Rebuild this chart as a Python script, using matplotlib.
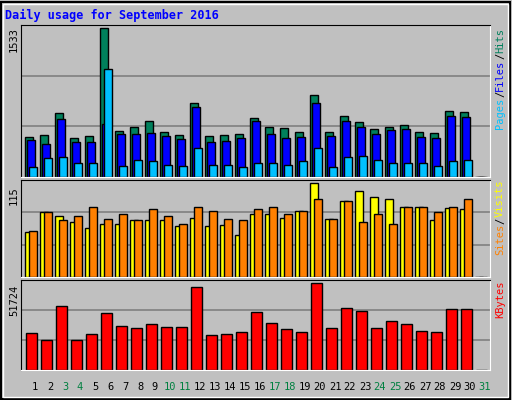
import matplotlib
matplotlib.use("Agg")
from matplotlib import pyplot as plt
from matplotlib.patches import Rectangle

days = list(range(1, 32))
hits = [409, 430, 659, 399, 420, 1533, 472, 513, 576, 461, 430, 763, 420, 430, 440,
        607, 513, 503, 461, 846, 461, 628, 565, 492, 513, 534, 461, 451, 680, 669, 0]
files = [378, 336, 597, 357, 357, 544, 440, 440, 451, 420, 388, 721, 357, 368, 399,
         576, 440, 399, 409, 763, 420, 576, 513, 440, 482, 492, 409, 399, 628, 617, 0]
pages = [108, 191, 201, 149, 139, 1106, 118, 180, 160, 128, 118, 295, 128, 128, 108,
         149, 149, 128, 160, 295, 108, 201, 212, 180, 139, 139, 149, 118, 160, 180, 0]
visits = [55, 79, 75, 67.5, 60, 65, 65, 70, 70, 70, 62.5, 72.5, 62.5, 64, 51,
          77.5, 77.5, 72.5, 80, 115, 71, 92.5, 105, 97.5, 95, 85, 85, 69, 84, 82.5, 0]
sites = [56, 79, 70, 74, 85, 71, 77.5, 69, 82.5, 74, 65, 86, 80, 71, 70,
         82.5, 85, 77.5, 80, 95, 71, 92.5, 67.5, 77.5, 65, 85, 85, 79, 85, 95, 0]
kbytes = [21890, 17711, 38009, 17711, 21293, 33830, 26069, 24875, 27263, 25472, 25472,
          49352, 20696, 21293, 22487, 34427, 27860, 24278, 22487, 51724, 24875, 36815,
          35024, 24875, 29054, 27263, 23084, 22487, 36218, 36218, 0]
weekends = [3, 4, 10, 11, 17, 18, 24, 25, 31]

bg = "#C0C0C0"
mono = "DejaVu Sans Mono"
fig = plt.figure(figsize=(5.12, 4.0), dpi=100, facecolor=bg)

px = 1 / 15.0
xl = (1 - 14 * px, 1 - 14 * px + 469 * px)

def setup(ax, vmax, frac):
    ax.set_facecolor(bg)
    ax.set_xlim(*xl)
    ax.set_ylim(0, vmax * frac)
    for g in (1 / 3, 2 / 3):
        ax.axhline(vmax * frac * g, color="#808080", lw=1.2, zorder=0)
    ax.set_xticks([])
    ax.set_yticks([])
    for s in ax.spines.values():
        s.set_color("black")
    ax.spines["right"].set_color("white")
    ax.spines["bottom"].set_color("white")

kw = dict(edgecolor="black", linewidth=1, align="edge")

ax1 = fig.add_axes([21 / 512, 0.5575, 469 / 512, 0.38])
setup(ax1, max(hits), 1.02)
x = [d - 10 * px for d in days]
ax1.bar(x, hits, 8 * px, color="#00805C", **kw)
ax1.bar([d - 8 * px for d in days], files, 8 * px, color="#0000FF", **kw)
ax1.bar([d - 6 * px for d in days], pages, 8 * px, color="#00C0FF", **kw)

ax2 = fig.add_axes([21 / 512, 0.3075, 469 / 512, 0.2425])
setup(ax2, max(visits), 1.03)
ax2.bar(x, visits, 8 * px, color="#FFFF00", **kw)
ax2.bar([d - 6 * px for d in days], sites, 8 * px, color="#FF8000", **kw)

ax3 = fig.add_axes([21 / 512, 0.075, 469 / 512, 0.225])
setup(ax3, max(kbytes), 1.04)
ax3.bar([d - 9 * px for d in days], kbytes, 11 * px, color="#FF0000", **kw)

for d in days:
    fig.text((35 + 15 * (d - 1)) / 512, 13 / 400, str(d), ha="center", va="center",
             fontsize=7.5, family=mono, color="#008040" if d in weekends else "black")

fig.text(5 / 512, 385 / 400, "Daily usage for September 2016", color="#0000FF",
         fontsize=8.5, family=mono, fontweight="bold", va="center")
for yy, v in ((0.9, max(hits)), (0.51, max(visits)), (0.25, max(kbytes))):
    fig.text(14 / 512, yy, f"{v:g}", rotation=90, fontsize=7.5, family=mono,
             va="center", ha="center")

def vlabel(parts, ytop):
    # parts listed top to bottom; each piece reads bottom-up
    y = ytop
    for t, c in parts:
        fig.text(500 / 512, y, t, rotation=90, fontsize=7.5, family=mono, color=c,
                 va="top", ha="center")
        y -= len(t) * 6.3 / 400

vlabel([("Hits", "#00805C"), ("/", "black"), ("Files", "#0000FF"), ("/", "black"),
        ("Pages", "#00C0FF")], 0.93)
vlabel([("Visits", "#FFFF00"), ("/", "black"), ("Sites", "#FF8000")], 0.55)
vlabel([("KBytes", "#FF0000")], 0.3)

fig.add_artist(Rectangle((1 / 512, 1 / 400), 509 / 512, 397 / 400, transform=fig.transFigure,
                         fill=False, edgecolor="black", lw=1.5))
fig.add_artist(Rectangle((3 / 512, 3 / 400), 505 / 512, 393 / 400, transform=fig.transFigure,
                         fill=False, edgecolor="white", lw=1))

fig.savefig("out.png", dpi=100, facecolor=bg)
